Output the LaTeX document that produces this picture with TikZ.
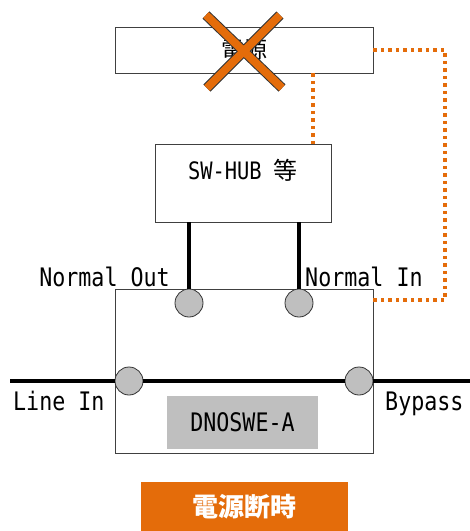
\documentclass[tikz,border=0pt]{standalone}
\usepackage{fontspec}
\setmainfont[FakeStretch=0.85]{DejaVu Sans Mono}
\newfontfamily\jp{Noto Sans CJK JP}
\usepackage{tikz}
\usetikzlibrary{positioning}
\definecolor{cutorange}{RGB}{228,108,10}
\definecolor{portgray}{RGB}{191,191,191}

\begin{document}
\begin{tikzpicture}[x=1pt, y=-1pt,
  box/.style={draw=black!75, line width=0.9pt, fill=white, inner sep=0pt},
  port/.style={circle, draw=black!80, line width=0.8pt, fill=portgray, minimum size=28pt, inner sep=0pt},
  cable/.style={line width=4.5pt, black},
  pwrline/.style={cutorange, line width=3.5pt, dash pattern=on 3.5pt off 4pt},
  lbl/.style={font=\fontsize{25.5}{27}\selectfont, inner sep=0pt}]
\useasboundingbox (0,0) rectangle (470,531);

% power supply (cut)
\node (power) [box, minimum width=258pt, minimum height=46pt] at (244,50)
  {\jp\fontsize{23}{25}\selectfont 電源};
\draw[line width=10pt, black!80] (206,15) -- (282,88) (280,15) -- (207,88);
\draw[line width=8pt, cutorange] (206,15) -- (282,88) (280,15) -- (207,88);

% switch / hub
\node (hub) [box, minimum width=176pt, minimum height=78pt] at (243,183) {};
\node (hubtxt) [lbl, font=\fontsize{24}{26}\selectfont, below=15pt of hub.north] {SW-HUB {\jp 等}};

% bypass unit
\node (unit) [box, minimum width=258pt, minimum height=164pt] at (244,371) {};
\node (model) [fill=portgray, minimum width=151pt, minimum height=53pt, inner sep=0pt,
  font=\fontsize{25.5}{27}\selectfont] at (242.5,422.5) {DNOSWE-A};

\node (nout) [port] at (189,303) {};
\node (nin) [port] at (299,303) {};
\node (lin) [port] at (129,381) {};
\node (byp) [port] at (359,381) {};

\node (noutlbl) [lbl, anchor=base east] at (170,286) {Normal Out};
\node (ninlbl) [lbl, anchor=base west] at (305,286) {Normal In};
\node (linlbl) [lbl, anchor=base west] at (13,410) {Line In};
\node (byplbl) [lbl, anchor=base west] at (385,410) {Bypass};

% cables
\coordinate (wire-l) at (10,381);
\coordinate (wire-r) at (470,381);
\draw[cable] (hub.south -| nout) -- (nout.north);
\draw[cable] (hub.south -| nin) -- (nin.north);
\draw[cable] (wire-l) -- (lin.west);
\draw[cable] (lin.east) -- (byp.west);
\draw[cable] (byp.east) -- (wire-r);

% power feed
\coordinate (feed) at (445,300);
\coordinate (tap) at (313,0);
\draw[pwrline] (power.east) -| (feed) -- (feed -| unit.east);
\draw[pwrline] (power.south -| tap) -- (hub.north -| tap);

% caption
\node (state) [fill=cutorange, text=white, minimum width=207pt, minimum height=49pt, inner sep=0pt,
  font=\jp\bfseries\fontsize{26}{28}\selectfont] at (244.5,506.5) {電源断時};
\end{tikzpicture}
\end{document}
